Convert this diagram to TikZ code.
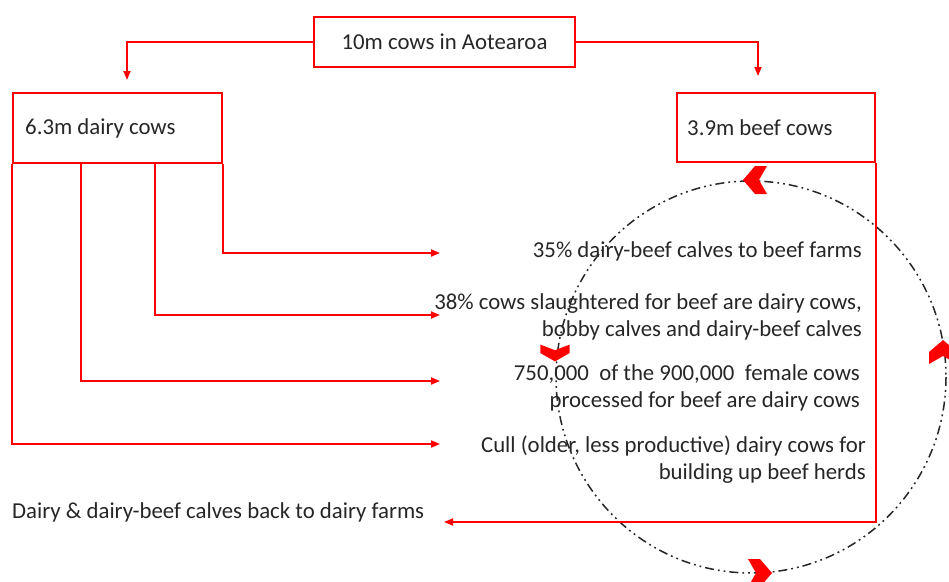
\documentclass[tikz,border=0pt]{standalone}
\usepackage{fontspec}
\setmainfont{Carlito}
\usetikzlibrary{arrows.meta}
\definecolor{flowred}{RGB}{255,0,0}
\definecolor{inkgrey}{RGB}{38,38,38}
\begin{document}
\begin{tikzpicture}[x=1pt,y=-1pt,
  font=\fontsize{22.8}{27}\selectfont,
  every node/.style={text=inkgrey},
  redbox/.style={draw=flowred,line width=2pt,inner sep=0pt},
  link/.style={draw=flowred,line width=1.8pt},
  linkarrow/.style={link,-{Triangle[length=9pt,width=7pt]}},
  flowtext/.style={align=right,anchor=east,inner sep=0pt},
  loop/.style={draw=black!85,line width=1.5pt,dash pattern=on 9pt off 4pt on 1.8pt off 4pt on 1.8pt off 4pt},
  chev/.pic={\fill[flowred] (-12,-14) -- (0,-14) -- (12,0) -- (0,14) -- (-12,14) -- (-4,0) -- cycle;}
]
\useasboundingbox (0,0) rectangle (949,581);

% boxes
\node[redbox,minimum width=261pt,minimum height=50pt] (top) at (444.5,42) {10m cows in Aotearoa};
\node[redbox,minimum width=209pt,minimum height=70pt] (dairy) at (117.5,128) {};
\node[anchor=west,inner sep=0pt] (dairylbl) at (25,128) {6.3m dairy cows};
\node[redbox,minimum width=198pt,minimum height=69pt] (beef) at (776,127.5) {};
\node[anchor=west,inner sep=0pt] (beeflbl) at (687,128) {3.9m beef cows};

% recycling loop
\draw[loop] (751,377) ellipse [x radius=195, y radius=196];
\pic[rotate=180] at (755,180) {chev};
\pic[rotate=90] at (943,352) {chev};
\pic at (760,573) {chev};
\pic[rotate=-90,xscale=0.7,yscale=1.05] at (555,353) {chev};

% split from the national herd
\coordinate (ldrop) at (127,80);
\coordinate (rdrop) at (758,76);
\draw[linkarrow] (top.west) -| (ldrop);
\draw[linkarrow] (top.east) -| (rdrop);

% flows out of the dairy herd
\coordinate (e1) at (440,253);
\coordinate (e2) at (440,315);
\coordinate (e3) at (440,381);
\coordinate (e4) at (440,444);
\coordinate (e5) at (444,522);
\draw[linkarrow] (dairy.south east) |- (e1);
\draw[linkarrow] ([xshift=-68pt]dairy.south east) |- (e2);
\draw[linkarrow] ([xshift=69pt]dairy.south west) |- (e3);
\draw[linkarrow] (dairy.south west) |- (e4);
\draw[linkarrow] (beef.south east) |- (e5);

% labels
\node[flowtext] (t1) at (862,251) {35\% dairy-beef calves to beef farms};
\node[flowtext] (t2) at (862,317) {38\% cows slaughtered for beef are dairy cows,\\bobby calves and dairy-beef calves};
\node[flowtext] (t3) at (860,388) {750,000\ \ of the 900,000\ \ female cows\\processed for beef are dairy cows};
\node[flowtext] (t4) at (866,460) {Cull (older, less productive) dairy cows for\\building up beef herds};
\node[anchor=west,inner sep=0pt] (t5) at (12,512) {Dairy \& dairy-beef calves back to dairy farms};
\end{tikzpicture}
\end{document}
